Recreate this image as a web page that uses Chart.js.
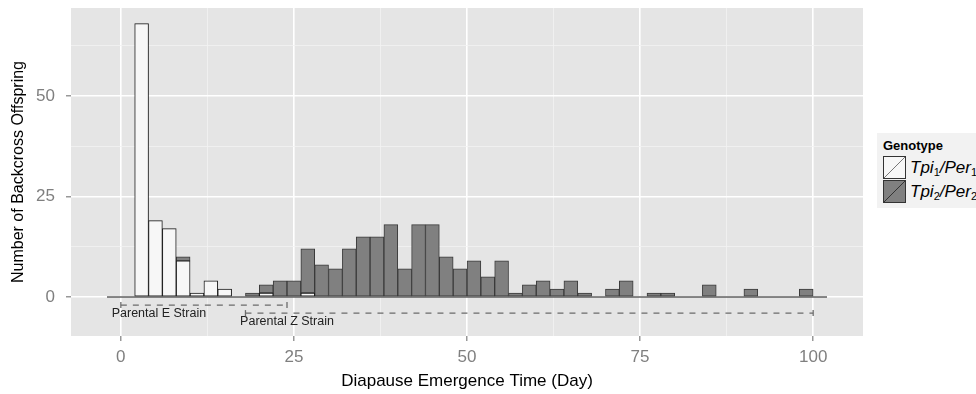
<!DOCTYPE html>
<html>
<head>
<meta charset="utf-8">
<script src="https://cdn.jsdelivr.net/npm/chart.js@4.4.0/dist/chart.umd.min.js"></script>
<style>
  html, body { margin: 0; padding: 0; background: #fff; overflow: hidden; }
  #wrap { position: relative; width: 976px; height: 394px; overflow: hidden; }
  #legend {
    position: absolute; left: 877px; top: 133px; width: 130px; height: 75px;
    background: #f2f2f2; font-family: 'Liberation Sans', Arial, sans-serif; color: #000;
  }
  #legend .ttl { position: absolute; left: 6px; top: 5px; font-size: 13px; font-weight: bold; }
  #legend .row { position: absolute; left: 6px; height: 23px; display: flex; align-items: center; }
  #legend .row svg { display: block; }
  #legend .lab { margin-left: 4px; font-size: 17px; font-style: italic; white-space: nowrap; }
  #legend sub { font-size: 11px; font-style: normal; vertical-align: -3px; }
</style>
</head>
<body>
<div id="wrap">
  <canvas id="myChart" width="976" height="394"></canvas>
  <div id="legend">
    <div class="ttl">Genotype</div>
    <div class="row" style="top:23px">
      <svg width="23" height="23"><rect x="0.5" y="0.5" width="22" height="22" fill="#f7f7f7" stroke="#333"/><line x1="1" y1="22" x2="22" y2="1" stroke="#777" stroke-width="1"/></svg>
      <span class="lab">Tpi<sub>1</sub>/Per<sub>1</sub></span>
    </div>
    <div class="row" style="top:47px">
      <svg width="23" height="23"><rect x="0.5" y="0.5" width="22" height="22" fill="#808080" stroke="#333"/><line x1="1" y1="22" x2="22" y2="1" stroke="#333" stroke-width="1"/></svg>
      <span class="lab">Tpi<sub>2</sub>/Per<sub>2</sub></span>
    </div>
  </div>
</div>
<script>
// histogram bins (2-day wide), centre of each bin
const binMid = [-1, 1, 3, 5, 7, 9, 11, 13, 15, 17, 19, 21, 23, 25, 27, 29, 31, 33, 35, 37,
                39, 41, 43, 45, 47, 49, 51, 53, 55, 57, 59, 61, 63, 65, 67, 69, 71, 73, 75, 77,
                79, 81, 83, 85, 87, 89, 91, 93, 95, 97, 99, 101];
const tpi1Counts = [0, 0, 68, 19, 17, 9, 1, 4, 2, 0, 0, 1, 0, 0, 1, 0, 0, 0, 0, 0,
                    0, 0, 0, 0, 0, 0, 0, 0, 0, 0, 0, 0, 0, 0, 0, 0, 0, 0, 0, 0,
                    0, 0, 0, 0, 0, 0, 0, 0, 0, 0, 0, 0];
const tpi2Counts = [0, 0, 0, 0, 0, 1, 0, 0, 0, 0, 1, 2, 4, 4, 11, 8, 7, 12, 15, 15,
                    18, 7, 18, 18, 10, 7, 9, 5, 9, 1, 3, 4, 2, 4, 1, 0, 2, 4, 0, 1,
                    1, 0, 0, 3, 0, 0, 2, 0, 0, 0, 2, 0];
const histSpan = [-2, 102];

const xTicks = [0, 25, 50, 75, 100];
const yTicks = [0, 25, 50];

// parental strain ranges
const eStrainDays = [0, 24];
const eStrainLevel = -2;
const zStrainDays = [18, 100];
const zStrainLevel = -4;
const noteText = ['Parental E Strain', 'Parental Z Strain'];
const noteX = [5.5, 24];
const noteY = [-4, -6.2];

const FONT = "'Liberation Sans', Arial, sans-serif";

const panelBg = {
    id: 'panelBg',
    beforeDraw(chart) {
        const a = chart.chartArea;
        const ctx = chart.ctx;
        ctx.save();
        ctx.fillStyle = '#e5e5e5';
        ctx.fillRect(a.left, a.top, a.right - a.left, a.bottom - a.top);
        ctx.restore();
    }
};

const notes = {
    id: 'notes',
    afterDatasetsDraw(chart) {
        const ctx = chart.ctx;
        const xs = chart.scales.x, ys = chart.scales.y;
        ctx.save();
        ctx.fillStyle = '#222';
        ctx.font = '12.5px ' + FONT;
        ctx.textAlign = 'center';
        ctx.textBaseline = 'middle';
        noteText.forEach((t, i) => {
            ctx.fillText(t, xs.getPixelForValue(noteX[i]), ys.getPixelForValue(noteY[i]));
        });
        ctx.restore();
    }
};

const isMajor = (list, v) => list.includes(v);

function rangeLine(days, level) {
    return {
        type: 'line',
        data: days.map(d => ({x: d, y: level})),
        borderColor: '#6b6b6b',
        borderWidth: 1.3,
        borderDash: [6, 6],
        pointStyle: 'line',
        pointRotation: 90,
        pointRadius: 3,
        pointBorderWidth: 1.3,
        pointBorderColor: '#6b6b6b',
        order: 0,
        stack: 'range' + level
    };
}

const myChart = new Chart(document.getElementById('myChart'), {
    type: 'bar',
    data: {
        datasets: [{
            label: 'Tpi1/Per1',
            data: binMid.map((x, i) => ({x: x, y: tpi1Counts[i]})),
            backgroundColor: '#f7f7f7',
            borderColor: '#1a1a1a',
            borderWidth: 1,
            borderSkipped: false,
            barPercentage: 1,
            categoryPercentage: 1,
            stack: 'geno',
            order: 1
        }, {
            label: 'Tpi2/Per2',
            data: binMid.map((x, i) => ({x: x, y: tpi2Counts[i]})),
            backgroundColor: '#808080',
            borderColor: '#3a3a3a',
            borderWidth: 1,
            borderSkipped: false,
            barPercentage: 1,
            categoryPercentage: 1,
            stack: 'geno',
            order: 1
        }, {
            type: 'line',
            data: histSpan.map(x => ({x: x, y: 0})),
            borderColor: '#111',
            borderWidth: 1,
            pointRadius: 0,
            order: 0,
            stack: 'base'
        },
        rangeLine(eStrainDays, eStrainLevel),
        rangeLine(zStrainDays, zStrainLevel)]
    },
    options: {
        responsive: false,
        animation: false,
        events: [],
        layout: { padding: { left: 0, top: 8, right: 113, bottom: 0 } },
        plugins: { legend: { display: false }, tooltip: { enabled: false } },
        scales: {
            x: {
                type: 'linear',
                min: -7.2,
                max: 107.2,
                offset: false,
                afterFit: s => { s.height = 58; s.paddingLeft = 0; s.paddingRight = 0; },
                border: { display: false },
                grid: {
                    offset: false,
                    drawTicks: true,
                    tickLength: 5,
                    color: c => isMajor(xTicks, c.tick.value) ? '#ffffff' : '#f2f2f2',
                    lineWidth: c => isMajor(xTicks, c.tick.value) ? 1.6 : 0.8,
                    tickColor: c => isMajor(xTicks, c.tick.value) ? '#7f7f7f' : 'rgba(0,0,0,0)',
                    tickWidth: 1.2
                },
                ticks: {
                    stepSize: 12.5,
                    includeBounds: false,
                    autoSkip: false,
                    maxRotation: 0,
                    padding: 6,
                    color: '#7f7f7f',
                    font: { family: FONT, size: 17 },
                    callback: v => isMajor(xTicks, v) ? v : ''
                },
                title: {
                    display: true,
                    text: 'Diapause Emergence Time (Day)',
                    color: '#000',
                    font: { family: FONT, size: 17 },
                    padding: { top: 0, bottom: 2 }
                }
            },
            y: {
                type: 'linear',
                stacked: true,
                min: -9.7,
                max: 71.9,
                afterFit: s => { s.width = 71; s.paddingTop = 0; s.paddingBottom = 0; },
                border: { display: false },
                grid: {
                    drawTicks: true,
                    tickLength: 5,
                    color: c => isMajor(yTicks, c.tick.value) ? '#ffffff' : '#f2f2f2',
                    lineWidth: c => isMajor(yTicks, c.tick.value) ? 1.6 : 0.8,
                    tickColor: c => isMajor(yTicks, c.tick.value) ? '#7f7f7f' : 'rgba(0,0,0,0)',
                    tickWidth: 1.2
                },
                ticks: {
                    stepSize: 12.5,
                    includeBounds: false,
                    autoSkip: false,
                    padding: 11,
                    color: '#7f7f7f',
                    font: { family: FONT, size: 17 },
                    callback: v => isMajor(yTicks, v) ? v : ''
                },
                title: {
                    display: true,
                    text: 'Number of Backcross Offspring',
                    color: '#000',
                    font: { family: FONT, size: 16 },
                    padding: { top: 8.5, bottom: 0 }
                }
            }
        }
    },
    plugins: [panelBg, notes]
});
</script>
</body>
</html>
